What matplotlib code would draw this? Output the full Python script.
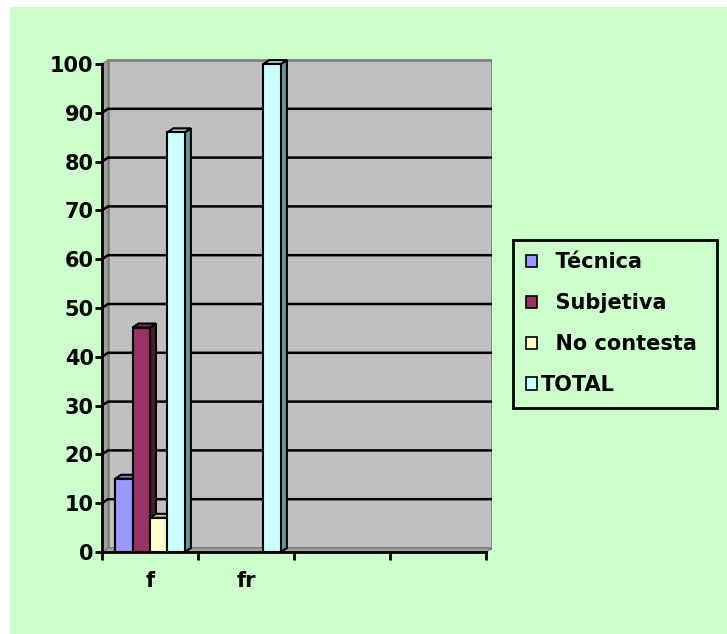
import matplotlib
matplotlib.use('Agg')
import matplotlib.pyplot as plt
from matplotlib.patches import Polygon, Rectangle

plt.rcParams['font.family'] = ['DejaVu Sans']
plt.rcParams['font.weight'] = 'bold'

# datos
categorias = ['f', 'fr', '', '']
series = ['Técnica', 'Subjetiva', 'No contesta', 'TOTAL']
tecnica = [15, 0, 0, 0]
subjetiva = [46, 0, 0, 0]
no_contesta = [7, 0, 0, 0]
total = [86, 100, 0, 0]
valores = [tecnica, subjetiva, no_contesta, total]

colores = ['#9999FF', '#993366', '#FFFFCC', '#CCFFFF']
lados = ['#4D4D80', '#4D1A33', '#80806A', '#669999']
topes = ['#7A7ACC', '#7A2952', '#CCCCA3', '#A3CCCC']

W, H = 727, 634
fig = plt.figure(figsize=(W / 100, H / 100), dpi=100)
fig.patch.set_facecolor('white')
fig.add_artist(Rectangle((10 / W, 0), 1 - 10 / W, 1 - 7 / H, transform=fig.transFigure,
                         facecolor='#CCFFCC', edgecolor='none', zorder=-10))

# ejes: 4 categorias de 96 px, profundidad 6 px x 4 px
px_cat = 96.0
px_y = 4.88
dx = 6 / px_cat
dy = 4 / px_y
izq, der, abajo, arriba = 102, 492, 552, 59
ax = fig.add_axes([izq / W, (H - abajo) / H, (der - izq) / W, (abajo - arriba) / H])
ax.set_xlim(0, 4 + dx)
ax.set_ylim(0, (abajo - arriba) / px_y)
ax.patch.set_visible(False)
for s in ax.spines.values():
    s.set_visible(False)

n = len(categorias)
# pared del fondo
ax.add_patch(Rectangle((dx, dy), n, 100, facecolor='#C0C0C0', edgecolor='#808080', lw=2, zorder=1))
# pared izquierda y piso
ax.add_patch(Polygon([(0, 0), (dx, dy), (dx, 100 + dy), (0, 100)], closed=True,
                     facecolor='#A0A0A0', edgecolor='#808080', lw=1, zorder=1))
ax.add_patch(Polygon([(0, 0), (n, 0), (n + dx, dy), (dx, dy)], closed=True,
                     facecolor='#A0A0A0', edgecolor='#808080', lw=1, zorder=1))

# lineas de division
for v in range(10, 100, 10):
    ax.plot([0, dx, n + dx], [v, v + dy, v + dy], color='black', lw=1.8, zorder=2,
            solid_capstyle='butt')

# barras 3D
ancho = 1 / 5.5
inicio = 0.75 * ancho
for c in range(n):
    for i in range(len(series)):
        v = valores[i][c]
        if v <= 0:
            continue
        x0 = c + inicio + i * ancho
        x1 = x0 + ancho
        z = 3 + c * 4 + i
        ax.add_patch(Polygon([(x1, 0), (x1 + dx, dy), (x1 + dx, v + dy), (x1, v)], closed=True,
                             facecolor=lados[i], edgecolor='black', lw=1.5, zorder=z))
        ax.add_patch(Polygon([(x0, v), (x0 + dx, v + dy), (x1 + dx, v + dy), (x1, v)], closed=True,
                             facecolor=topes[i], edgecolor='black', lw=1.5, zorder=z))
        ax.add_patch(Rectangle((x0, 0), ancho, v, facecolor=colores[i], edgecolor='black',
                               lw=1.5, zorder=z))

# ejes principales
ax.plot([0, 0], [0, 100], color='black', lw=2, zorder=40, clip_on=False)
ax.plot([0, n], [0, 0], color='black', lw=2, zorder=40, clip_on=False)

ax.set_yticks(range(0, 101, 10))
ax.set_yticklabels([str(v) for v in range(0, 101, 10)], fontsize=15, fontweight='bold')
ax.tick_params(axis='y', direction='out', length=5, width=2, pad=1)
ax.set_xticks(range(0, n + 1))
ax.set_xticklabels([])
ax.tick_params(axis='x', which='major', direction='out', length=6, width=2)
ax.set_xticks([c + 0.5 for c in range(n)], minor=True)
ax.set_xticklabels(categorias, minor=True, fontsize=15, fontweight='bold')
ax.tick_params(axis='x', which='minor', length=0, pad=14)

# leyenda
handles = [Rectangle((0, 0), 1, 1, facecolor=colores[i], edgecolor='black', lw=1.2)
           for i in range(len(series))]
etiquetas = ['  ' + s for s in series[:3]] + [series[3]]
leg = fig.legend(handles, etiquetas, loc='upper left',
                 bbox_to_anchor=(513 / W, 1 - 408 / H, 204 / W, 168 / H), mode='expand',
                 prop={'weight': 'bold', 'size': 15}, frameon=True, fancybox=False, framealpha=1,
                 handlelength=0.55, handleheight=0.55, handletextpad=0.2, labelspacing=1.0,
                 borderpad=0.6, borderaxespad=0)
leg.get_frame().set_facecolor('#CCFFCC')
leg.get_frame().set_edgecolor('black')
leg.get_frame().set_linewidth(2)

fig.savefig('out.png', dpi=100)
